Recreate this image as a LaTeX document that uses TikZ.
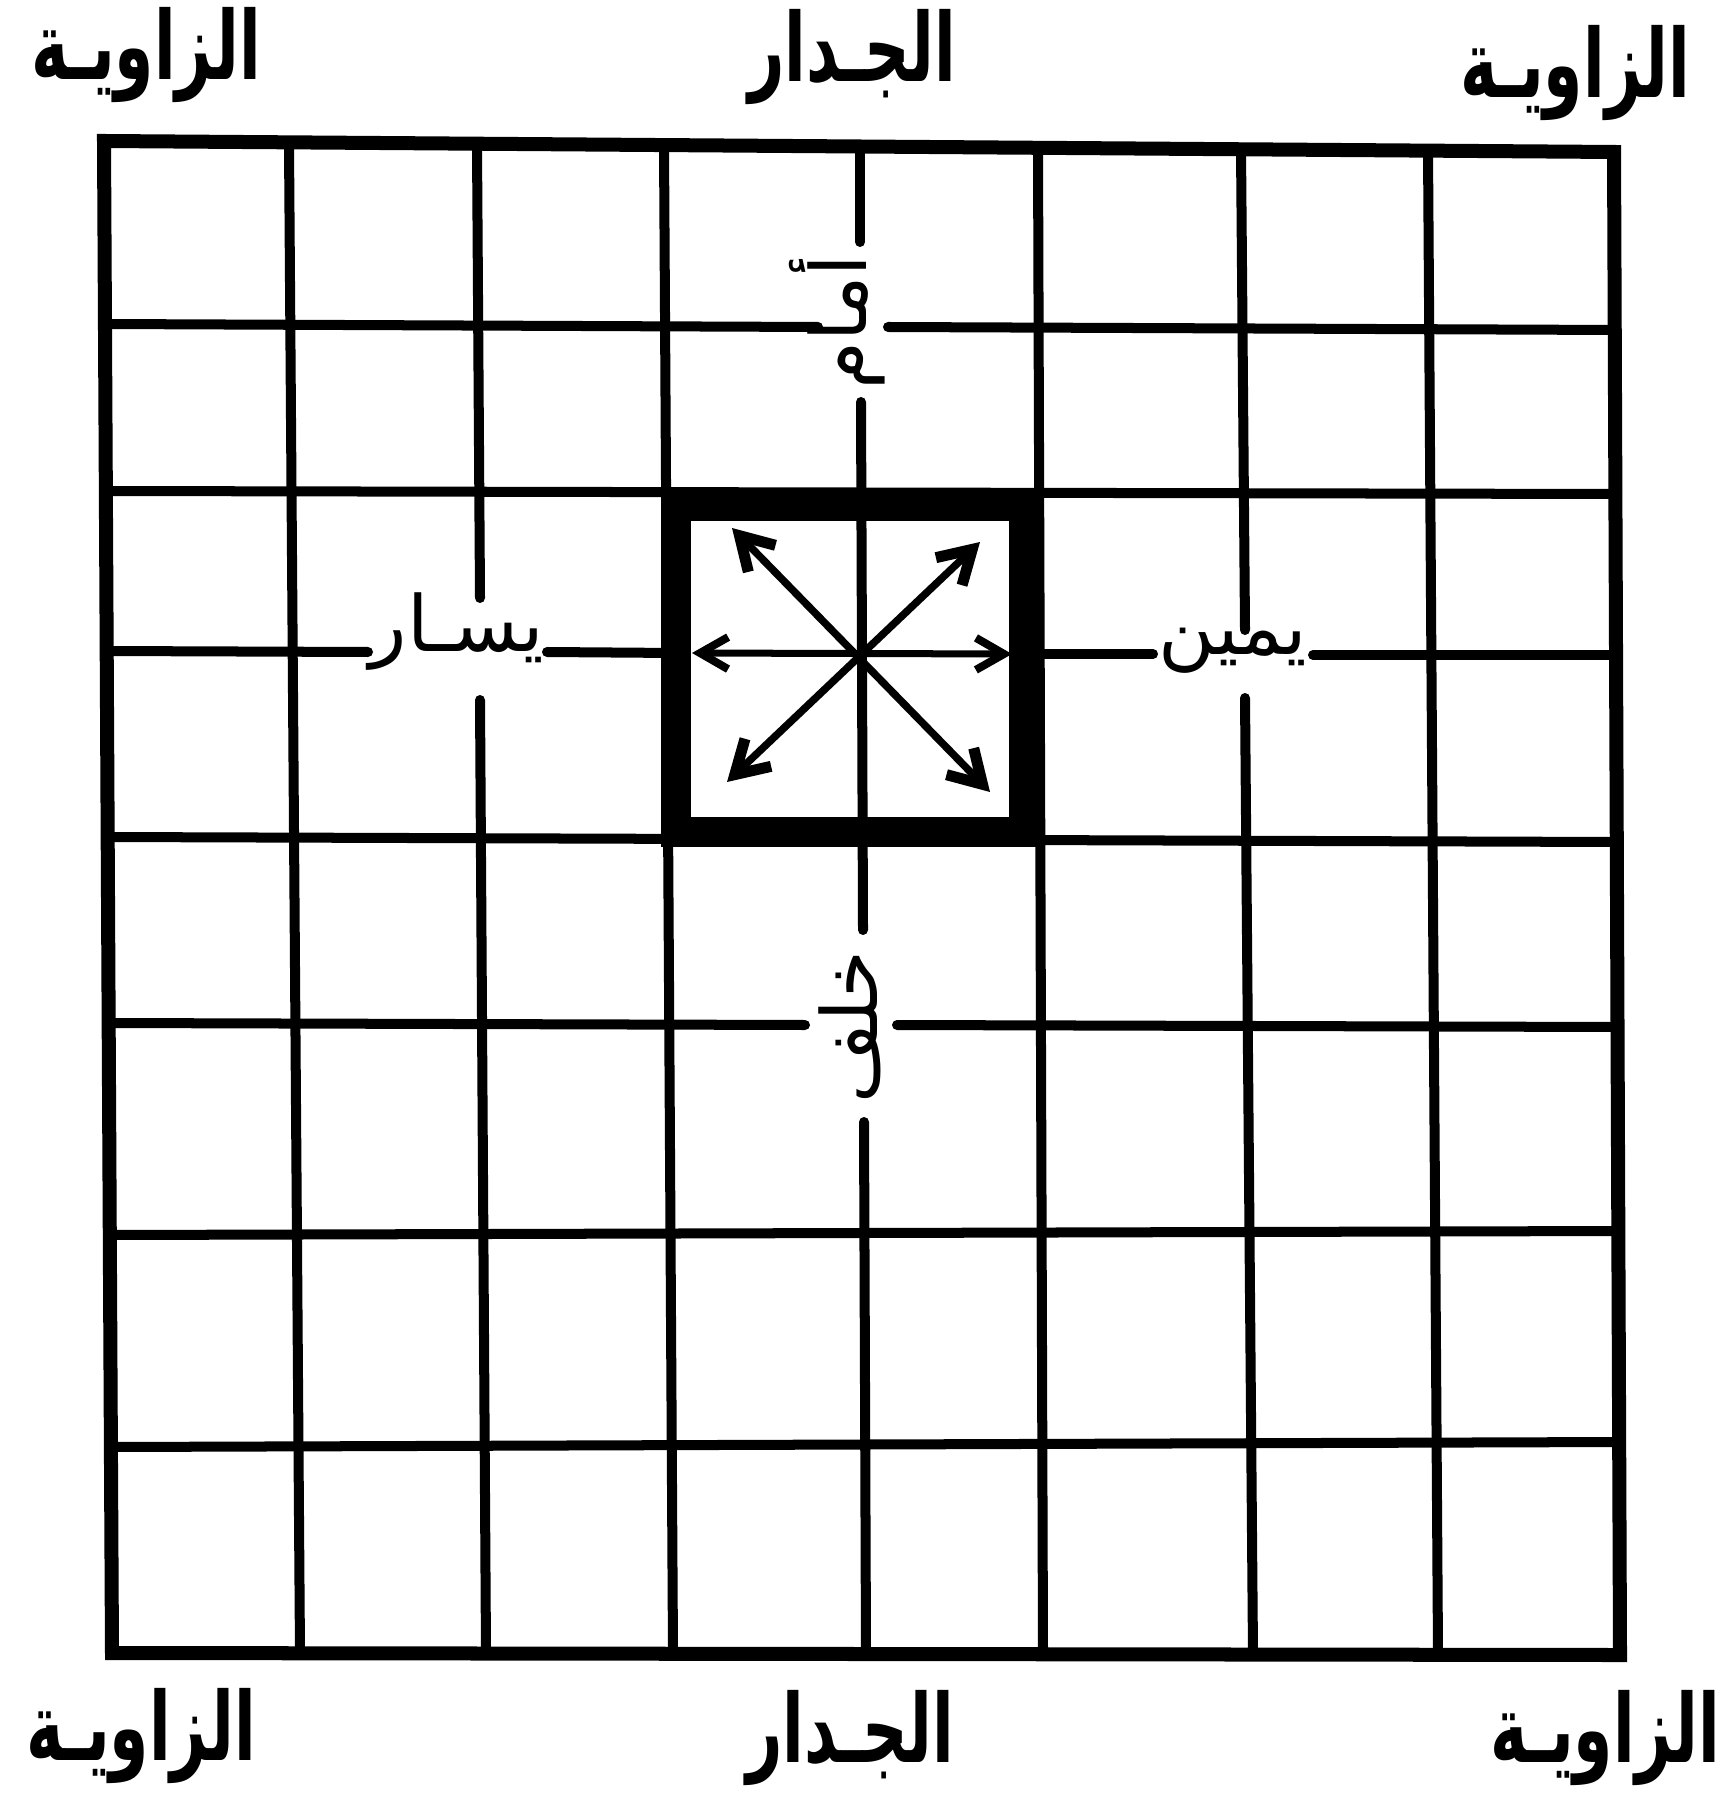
\documentclass[tikz,border=0pt]{standalone}
\usepackage{fontspec}
\TeXXeTstate=1
\newfontfamily\arabicfont[Script=Arabic]{DejaVu Sans}
\usetikzlibrary{arrows.meta}
\tikzset{
  gridline/.style={line width=0.1cm, line cap=round},
  outerline/.style={line width=0.14cm, line join=miter},
  thickbox/.style={line width=0.3cm, line join=miter},
  dbarb/.tip={Straight Barb[length=3.2mm,width=3.8mm,line width=1.1mm]},
  hbarb/.tip={Straight Barb[length=2.8mm,width=3.2mm,line width=0.8mm]},
  diagarrow/.style={line width=0.075cm, dbarb-dbarb},
  horarrow/.style={line width=0.07cm, hbarb-hbarb},
  cornerlabel/.style={font=\arabicfont\bfseries\fontsize{18}{22}\selectfont, inner sep=0pt, anchor=base, yscale=1.5},
  innerlabel/.style={font=\arabicfont\fontsize{22}{26}\selectfont, inner sep=0pt, anchor=base}
}
\begin{document}
\begin{tikzpicture}[x=0.01cm,y=-0.01cm]
\useasboundingbox (0,0) rectangle (1730,1801);
\fill[white] (0,0) rectangle (1730,1801);

% outer frame
\draw[outerline] (104,141) -- (1614,152) -- (1620,1655) -- (112,1653) -- cycle;

% vertical grid lines
\draw[gridline] (289,145) -- (300,1654);
\draw[gridline] (477,146) -- (480,598);
\draw[gridline] (480,700) -- (486,1654);
\draw[gridline] (664,147) -- (673,1654);
\draw[gridline] (860,148) -- (860,242);
\draw[gridline] (861,402) -- (863,930);
\draw[gridline] (864,1122) -- (866,1654);
\draw[gridline] (1038,149) -- (1043,1654);
\draw[gridline] (1241,150) -- (1245,630);
\draw[gridline] (1245,698) -- (1253,1655);
\draw[gridline] (1428,151) -- (1438,1655);

% horizontal grid lines
\draw[gridline] (104,324) -- (818,327);
\draw[gridline] (888,327) -- (1617,330);
\draw[gridline] (105,491) -- (1617,494);
\draw[gridline] (106,651) -- (368,652);
\draw[gridline] (547,652) -- (676,653);
\draw[gridline] (1024,654) -- (1153,654);
\draw[gridline] (1313,655) -- (1617,655);
\draw[gridline] (107,837) -- (1618,842);
\draw[gridline] (108,1023) -- (805,1025);
\draw[gridline] (897,1025) -- (1618,1027);
\draw[gridline] (109,1235) -- (1619,1231);
\draw[gridline] (110,1447) -- (1619,1442);

% central thick square
\draw[thickbox] (676,506) rectangle (1024,832);

% direction arrows
\coordinate (ul) at (732,528);
\coordinate (lr) at (990,792);
\coordinate (ur) at (980,542);
\coordinate (ll) at (727,782);
\coordinate (lt) at (692,653);
\coordinate (rt) at (1012,654);
\draw[diagarrow] (ul) -- (lr);
\draw[diagarrow] (ur) -- (ll);
\draw[horarrow] (lt) -- (rt);

% corner and wall labels
\node[cornerlabel] (ztl) at (146,80) {\beginR الزاويـة\endR};
\node[cornerlabel] (wt) at (852,82) {\beginR الجـدار\endR};
\node[cornerlabel] (ztr) at (1575,98) {\beginR الزاويـة\endR};
\node[cornerlabel] (zbl) at (141,1760) {\beginR الزاويـة\endR};
\node[cornerlabel] (wb) at (850,1762) {\beginR الجـدار\endR};
\node[cornerlabel] (zbr) at (1605,1762) {\beginR الزاويـة\endR};

% direction labels
\node[innerlabel] (left) at (457,652) {\beginR يسـار\endR};
\node[innerlabel] (right) at (1233,655) {\beginR يمين\endR};
\node[innerlabel, rotate=90] (front) at (866,322) {\beginR أمام\endR};
\node[innerlabel, rotate=90] (back) at (877,1027) {\beginR خلف\endR};
\end{tikzpicture}
\end{document}
